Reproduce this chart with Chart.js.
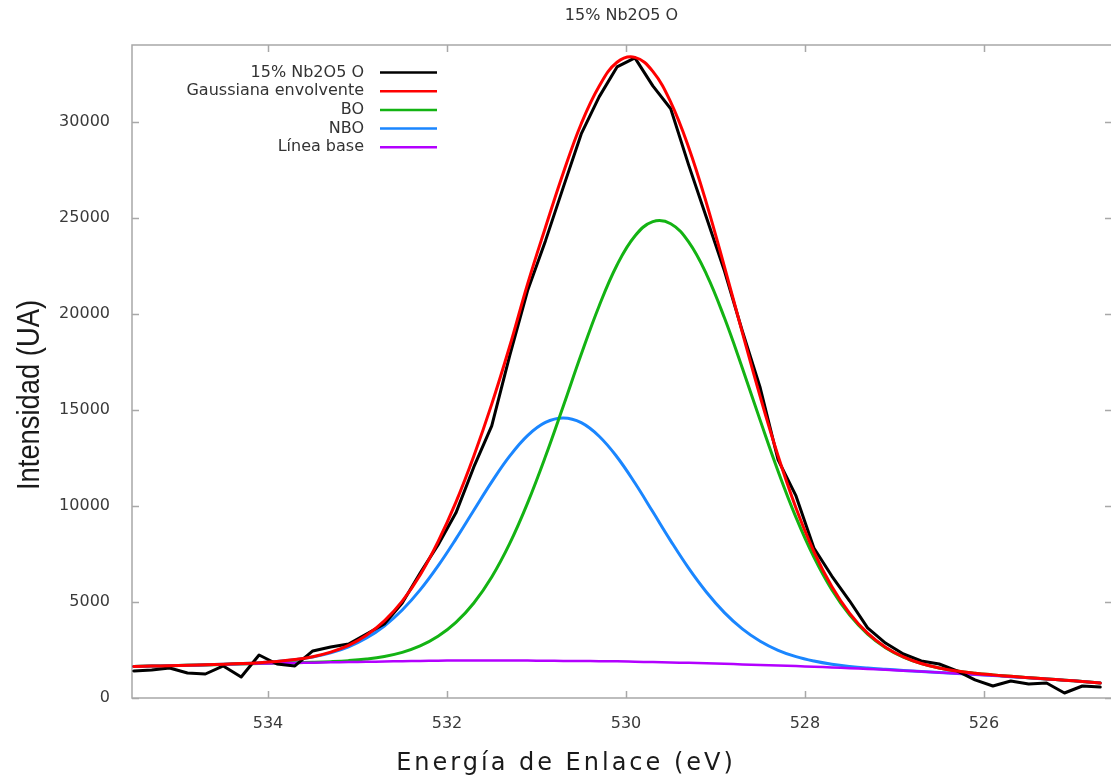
<!DOCTYPE html>
<html>
<head>
<meta charset="utf-8">
<title>15% Nb2O5 O</title>
<script src="https://cdn.jsdelivr.net/npm/chart.js@4.4.1/dist/chart.umd.min.js"></script>
<style>
  html, body { margin: 0; padding: 0; background: #fff; }
  #grafico { display: block; }
</style>
</head>
<body>
<canvas id="grafico" width="1111" height="778"></canvas>
<script>
// Energía de enlace (eV), paso 0.2
var energia = [535.5, 535.3, 535.1, 534.9, 534.7, 534.5, 534.3, 534.1, 533.9, 533.7,
  533.5, 533.3, 533.1, 532.9, 532.7, 532.5, 532.3, 532.1, 531.9, 531.7,
  531.5, 531.3, 531.1, 530.9, 530.7, 530.5, 530.3, 530.1, 529.9, 529.7,
  529.5, 529.3, 529.1, 528.9, 528.7, 528.5, 528.3, 528.1, 527.9, 527.7,
  527.5, 527.3, 527.1, 526.9, 526.7, 526.5, 526.3, 526.1, 525.9, 525.7,
  525.5, 525.3, 525.1, 524.9, 524.7];

// espectro medido
var espectro = [1410, 1460, 1560, 1300, 1250, 1670, 1090, 2240, 1770, 1670,
  2450, 2660, 2810, 3330, 3850, 4950, 6510, 7970, 9640, 12030,
  14170, 17810, 21200, 23800, 26600, 29370, 31300, 32860, 33330, 31870,
  30680, 27760, 25000, 22240, 19110, 16150, 12400, 10520, 7810, 6350,
  5050, 3650, 2860, 2290, 1930, 1770, 1410, 940, 625, 885,
  730, 780, 260, 625, 570];

// Gaussiana envolvente
var envolvente = [1640, 1660, 1681, 1703, 1726, 1762, 1796, 1841, 1906, 2001,
  2151, 2386, 2740, 3266, 4014, 5043, 6407, 8144, 10200, 12600,
  15300, 18300, 21550, 24500, 27350, 29900, 31850, 33100, 33357, 32625,
  31027, 28679, 25757, 22461, 19036, 15691, 12602, 9894, 7626, 5805,
  4409, 3378, 2647, 2141, 1795, 1562, 1404, 1292, 1204, 1127,
  1058, 990, 930, 860, 780];

// BO
var bo = [1640, 1660, 1680, 1700, 1720, 1750, 1771, 1792, 1814, 1834,
  1859, 1894, 1946, 2030, 2163, 2376, 2709, 3212, 3935, 4944,
  6299, 8034, 10145, 12569, 15203, 17892, 20412, 22543, 24055, 24801,
  24694, 23747, 22059, 19794, 17185, 14455, 11808, 9402, 7334, 5638,
  4317, 3329, 2622, 2129, 1789, 1559, 1403, 1292, 1204, 1127,
  1058, 990, 930, 860, 780];

// NBO
var nbo = [1640, 1660, 1681, 1703, 1726, 1762, 1795, 1839, 1902, 1992,
  2132, 2347, 2664, 3121, 3751, 4582, 5628, 6877, 8283, 9774,
  11252, 12590, 13664, 14349, 14580, 14334, 13629, 12550, 11192, 9694,
  8183, 6762, 5508, 4447, 3601, 2956, 2484, 2152, 1922, 1757,
  1642, 1559, 1495, 1437, 1381, 1328, 1276, 1225, 1170, 1110,
  1050, 990, 930, 860, 780];

// Línea base
var lineaBase = [1640, 1660, 1680, 1700, 1720, 1750, 1770, 1790, 1810, 1825,
  1840, 1855, 1870, 1885, 1900, 1915, 1930, 1945, 1950, 1950,
  1950, 1950, 1950, 1940, 1930, 1925, 1915, 1910, 1890, 1870,
  1850, 1830, 1810, 1780, 1750, 1720, 1690, 1660, 1630, 1590,
  1550, 1510, 1470, 1425, 1375, 1325, 1275, 1225, 1170, 1110,
  1050, 990, 930, 860, 780];

var nombres = ["15% Nb2O5 O", "Gaussiana envolvente", "BO", "NBO", "Línea base"];
var colores = ["#000000", "#ff0000", "#13b313", "#1a86ff", "#b300ff"];

var xTicks = [534, 532, 530, 528, 526];
var yTicks = [0, 5000, 10000, 15000, 20000, 25000, 30000];

function puntos(valores) {
  return valores.map(function (v, i) { return { x: energia[i], y: v }; });
}

//---------------------------
//- MARCO, LEYENDA, TITULOS -
//---------------------------
var marcoPlugin = {
  id: "marco",
  beforeDatasetsDraw: function (chart) {
    var ctx = chart.ctx, a = chart.chartArea;
    var sx = chart.scales.x, sy = chart.scales.y;
    ctx.save();
    ctx.strokeStyle = "#a8a8a8";
    ctx.lineWidth = 1.5;
    ctx.beginPath();
    ctx.moveTo(a.right, a.top);
    ctx.lineTo(a.left, a.top);
    ctx.lineTo(a.left, a.bottom);
    ctx.lineTo(a.right, a.bottom);
    xTicks.forEach(function (v) {
      var px = Math.round(sx.getPixelForValue(v)) + 0.5;
      ctx.moveTo(px, a.bottom); ctx.lineTo(px, a.bottom - 7);
      ctx.moveTo(px, a.top); ctx.lineTo(px, a.top + 7);
    });
    yTicks.forEach(function (v) {
      var py = Math.round(sy.getPixelForValue(v)) + 0.5;
      ctx.moveTo(a.left, py); ctx.lineTo(a.left + 7, py);
      ctx.moveTo(a.right, py); ctx.lineTo(a.right - 6, py);
    });
    ctx.stroke();
    ctx.restore();
  },
  afterDraw: function (chart) {
    var ctx = chart.ctx;
    ctx.save();

    // leyenda
    ctx.font = '16px "DejaVu Sans", sans-serif';
    ctx.textAlign = "right";
    ctx.textBaseline = "middle";
    nombres.forEach(function (n, i) {
      var y = 72.5 + i * 18.7;
      ctx.fillStyle = "#333333";
      ctx.fillText(n, 364, y);
      ctx.strokeStyle = colores[i];
      ctx.lineWidth = 2.5;
      ctx.beginPath();
      ctx.moveTo(380, y);
      ctx.lineTo(437, y);
      ctx.stroke();
    });

    // título eje x
    ctx.fillStyle = "#1a1a1a";
    ctx.font = '24px "DejaVu Sans", sans-serif';
    ctx.textAlign = "center";
    ctx.textBaseline = "middle";
    ctx.letterSpacing = "3px";
    ctx.fillText("Energía de Enlace (eV)", 566, 764);
    ctx.letterSpacing = "0px";

    // título eje y (letra estrecha)
    ctx.translate(30, 395);
    ctx.rotate(-Math.PI / 2);
    ctx.font = '32px "Liberation Sans Narrow", "Liberation Sans", sans-serif';
    var ancho = ctx.measureText("Intensidad (UA)").width;
    ctx.scale(190 / ancho, 1);
    ctx.fillText("Intensidad (UA)", 0, 0);

    ctx.restore();
  }
};

var series = [
  { label: nombres[0], data: puntos(espectro), borderColor: colores[0], borderWidth: 3, tension: 0, order: 1 },
  { label: nombres[1], data: puntos(envolvente), borderColor: colores[1], borderWidth: 3, tension: 0.4, order: 0 },
  { label: nombres[2], data: puntos(bo), borderColor: colores[2], borderWidth: 3, tension: 0.4, order: 3 },
  { label: nombres[3], data: puntos(nbo), borderColor: colores[3], borderWidth: 3, tension: 0.4, order: 4 },
  { label: nombres[4], data: puntos(lineaBase), borderColor: colores[4], borderWidth: 2.5, tension: 0.4, order: 2 }
];

var tickFont = { family: '"DejaVu Sans", sans-serif', size: 16 };

new Chart(document.getElementById("grafico").getContext("2d"), {
  type: "line",
  data: { datasets: series },
  plugins: [marcoPlugin],
  options: {
    responsive: false,
    animation: false,
    events: [],
    elements: { point: { radius: 0 }, line: { fill: false, borderCapStyle: "round", borderJoinStyle: "round" } },
    layout: { padding: { left: 0, right: 0, top: 0, bottom: 0 } },
    plugins: {
      legend: { display: false },
      tooltip: { enabled: false },
      title: {
        display: true,
        text: "15% Nb2O5 O",
        fullSize: false,
        color: "#333333",
        font: { family: '"DejaVu Sans", sans-serif', size: 16, weight: "normal", lineHeight: 1.2 },
        padding: { top: 6, bottom: 19.8 }
      }
    },
    scales: {
      x: {
        type: "linear",
        reverse: true,
        min: 524.58,
        max: 535.52,
        grid: { display: false },
        border: { display: false },
        ticks: { color: "#3a3a3a", font: tickFont, padding: 8, callback: function (v) { return String(v); } },
        afterBuildTicks: function (s) { s.ticks = xTicks.map(function (v) { return { value: v }; }); },
        afterFit: function (s) { s.height = 80; }
      },
      y: {
        type: "linear",
        min: 0,
        max: 34000,
        grid: { display: false },
        border: { display: false },
        ticks: { color: "#3a3a3a", font: tickFont, padding: 14, callback: function (v) { return String(v); } },
        afterBuildTicks: function (s) { s.ticks = yTicks.map(function (v) { return { value: v }; }); },
        afterFit: function (s) { s.width = 132; }
      }
    }
  }
});
</script>
</body>
</html>
